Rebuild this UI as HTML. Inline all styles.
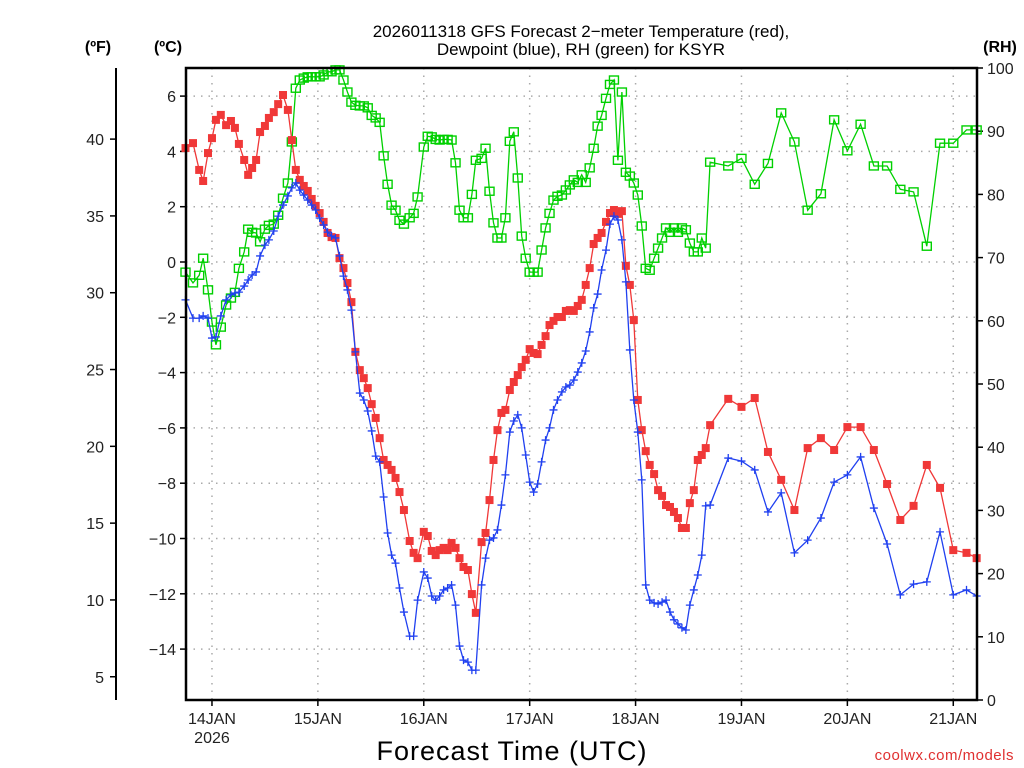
<!DOCTYPE html>
<html><head><meta charset="utf-8"><style>
html,body{margin:0;padding:0;background:#fff;width:1024px;height:768px;overflow:hidden}
svg text{font-family:"Liberation Sans","DejaVu Sans",sans-serif}
</style></head><body>
<svg id="chart" width="1024" height="768" viewBox="0 0 1024 768" xmlns="http://www.w3.org/2000/svg">
<rect width="1024" height="768" fill="#fff"/>
<g id="grid"></g>
<g id="axes"></g>
<g id="series"></g>
<rect x="186" y="68" width="791" height="632" fill="none" stroke="#000" stroke-width="2.5"/>
<text x="581" y="37" text-anchor="middle" font-size="17" fill="#000">2026011318 GFS Forecast 2−meter Temperature (red),</text>
<text x="581" y="55" text-anchor="middle" font-size="17" fill="#000">Dewpoint (blue), RH (green) for KSYR</text>
<text x="98" y="52" text-anchor="middle" font-size="16" font-weight="bold">(ºF)</text>
<text x="168" y="52" text-anchor="middle" font-size="16" font-weight="bold">(ºC)</text>
<text x="1000" y="52" text-anchor="middle" font-size="16" font-weight="bold">(RH)</text>
<text x="512" y="760" text-anchor="middle" font-size="27" letter-spacing="1">Forecast Time (UTC)</text>
<text x="1014" y="760" text-anchor="end" font-size="15" fill="#e03030" letter-spacing="0.5">coolwx.com/models</text>
</svg>
<script>
const hours=[0,1.7,3.1,4.0,5.1,6.0,6.9,8.0,9.2,10.3,11.2,12.1,13.3,14.2,15.1,16.0,16.9,18.0,18.9,20.0,21.0,22.1,23.2,24.1,25.0,25.9,26.8,27.7,28.6,29.5,30.4,31.3,32.2,33.1,34.0,34.9,35.8,36.7,37.6,38.5,39.5,40.4,41.3,42.2,43.1,44.0,44.9,45.8,46.7,47.6,48.5,49.5,50.8,51.7,52.6,54.0,54.9,55.8,56.7,57.6,58.5,59.4,60.3,61.2,62.1,63.0,64.0,64.9,65.8,67.1,68.0,68.9,69.8,70.7,71.6,72.5,73.5,74.4,75.3,76.2,77.1,78.0,78.9,79.8,80.7,81.6,82.5,83.4,84.3,85.3,86.2,87.1,88.0,88.9,89.8,90.7,91.6,92.5,93.4,94.3,95.3,96.2,97.1,98.0,98.9,99.8,100.7,101.6,102.5,103.4,104.3,105.2,106.2,107.1,108.0,108.9,109.8,110.7,111.6,112.5,113.4,114.3,115.2,116.1,117.0,117.9,118.9,123,126,129,132,135,138,141,144,147,150,153,156,159,162,165,168,171,174,177,179.3];
const tempC=[4.12,4.30,3.33,2.93,3.94,4.48,5.14,5.32,4.95,5.10,4.85,4.27,3.69,3.15,3.40,3.69,4.70,4.92,5.21,5.42,5.71,6.04,5.50,4.41,3.33,2.97,2.75,2.57,2.28,2.03,1.77,1.45,1.05,0.90,0.87,0.14,-0.22,-0.76,-1.45,-3.25,-3.91,-4.20,-4.56,-5.14,-5.64,-6.37,-7.16,-7.34,-7.52,-7.81,-8.32,-8.97,-10.09,-10.52,-10.71,-9.76,-9.91,-10.45,-10.60,-10.42,-10.34,-10.42,-10.16,-10.34,-10.71,-11.03,-11.14,-12.01,-12.69,-10.13,-9.80,-8.61,-7.16,-6.08,-5.46,-5.35,-4.63,-4.34,-4.09,-3.80,-3.54,-3.15,-3.29,-3.33,-3.00,-2.68,-2.28,-2.13,-1.99,-1.99,-1.77,-1.74,-1.77,-1.59,-1.37,-0.83,-0.22,0.65,0.87,1.05,1.45,1.77,1.88,1.74,1.84,-0.14,-0.83,-2.10,-4.99,-6.08,-6.84,-7.34,-7.67,-8.25,-8.46,-8.79,-8.86,-9.04,-9.26,-9.62,-9.62,-8.72,-8.25,-7.16,-6.98,-6.73,-5.90,-4.95,-5.24,-4.92,-6.87,-7.88,-8.97,-6.73,-6.37,-6.80,-5.97,-5.97,-6.80,-8.03,-9.33,-8.82,-7.34,-8.17,-10.42,-10.52,-10.71];
const dewC=[-1.37,-2.03,-2.03,-1.95,-2.03,-2.75,-2.71,-1.95,-1.37,-1.19,-1.12,-1.09,-0.87,-0.65,-0.47,-0.36,0.22,0.61,0.80,1.12,1.66,2.06,2.39,2.68,2.86,2.60,2.42,2.24,2.06,1.88,1.59,1.34,1.08,0.94,0.87,0.22,-0.51,-1.01,-1.74,-3.25,-4.74,-4.99,-5.39,-6.11,-7.02,-7.23,-8.50,-9.80,-10.60,-10.89,-11.79,-12.66,-13.53,-13.53,-12.23,-11.21,-11.43,-12.08,-12.23,-12.08,-11.86,-11.79,-11.68,-12.41,-13.89,-14.40,-14.47,-14.76,-14.76,-11.68,-10.71,-10.06,-9.98,-9.69,-8.79,-7.70,-6.15,-5.75,-5.53,-6.00,-6.98,-7.96,-8.32,-8.03,-7.23,-6.44,-6.00,-5.35,-4.99,-4.70,-4.52,-4.45,-4.27,-3.98,-3.65,-3.22,-2.53,-1.66,-1.16,-0.29,0.43,1.37,1.66,1.52,0.80,-0.72,-3.18,-4.99,-6.15,-7.88,-11.68,-12.23,-12.33,-12.37,-12.30,-12.23,-12.66,-12.94,-13.09,-13.23,-13.31,-12.41,-11.86,-11.32,-10.60,-8.82,-8.79,-7.09,-7.20,-7.52,-9.04,-8.35,-10.52,-10.06,-9.26,-7.96,-7.70,-7.05,-8.90,-10.20,-12.04,-11.65,-11.57,-9.76,-12.04,-11.86,-12.08];
const rhPct=[67.7,66.0,67.2,69.9,64.9,59.8,56.2,59.0,62.5,63.6,64.5,68.3,70.9,74.5,74.0,73.9,72.5,74.5,75.1,75.3,76.7,79.4,81.8,88.3,96.8,98.1,98.4,98.6,98.6,98.6,98.6,98.9,99.4,99.4,99.7,99.7,98.1,96.2,94.6,94.1,94.0,94.0,93.7,92.5,92.1,91.4,86.1,81.6,78.3,77.5,75.9,75.3,76.3,77.0,79.6,87.5,89.2,89.1,88.7,88.6,88.7,88.7,88.6,85.0,77.5,76.3,76.3,80.0,85.4,85.7,87.3,80.5,75.5,73.1,73.1,76.3,88.4,89.9,82.6,73.4,69.9,67.7,67.7,67.7,71.2,74.7,77.0,79.1,79.7,79.9,80.7,81.5,82.3,81.9,83.1,81.9,84.2,87.3,90.8,92.5,95.2,97.4,98.1,85.4,96.2,83.5,82.9,81.8,79.9,75.0,68.3,68.0,69.9,71.5,73.1,74.7,74.0,74.7,74.0,74.7,74.4,72.3,70.9,70.9,73.1,71.5,85.1,84.5,85.7,81.6,84.9,92.9,88.3,77.5,80.1,91.8,86.9,91.1,84.5,84.5,80.8,80.4,71.8,88.1,88.1,90.2,90.2];
const celsiusTicks=[6,4,2,0,-2,-4,-6,-8,-10,-12,-14];
const fahrenheitTicks=[40,35,30,25,20,15,10,5];
const rhTicks=[100,90,80,70,60,50,40,30,20,10,0];
const dayLabels=["14JAN","15JAN","16JAN","17JAN","18JAN","19JAN","20JAN","21JAN"];
const dayHours=[6,30,54,78,102,126,150,174];

const NS="http://www.w3.org/2000/svg";
const X0=185.5,PXH=105.9/24,L=186,R=977,T=68,B=700;
const xS=h=>X0+h*PXH;
const yC=c=>262-c*27.65;
const yF=f=>yC((f-32)*5/9);
const yRH=r=>B-r*6.32;
function mk(tag,attrs,parent,txt){const e=document.createElementNS(NS,tag);for(const k in attrs)e.setAttribute(k,attrs[k]);if(txt!==undefined)e.textContent=txt;parent.appendChild(e);return e;}
const grid=document.getElementById('grid'),axes=document.getElementById('axes'),ser=document.getElementById('series');

dayHours.forEach((h,i)=>{
  const x=xS(h);
  const g=mk('line',{x1:x,y1:T,x2:x,y2:B,stroke:'#aaa','stroke-width':1.5,'stroke-dasharray':'1.5 6'},grid);
  
  
  const t=mk('line',{x1:x,y1:B,x2:x,y2:B+6,stroke:'#000','stroke-width':1.5},axes);
  
  
  const lb=mk('text',{x:x,y:724,'text-anchor':'middle','font-size':16,fill:'#222'},axes,dayLabels[i]);
  
  
});
const yr=mk('text',{x:xS(dayHours[0]),y:743,'text-anchor':'middle','font-size':16,fill:'#222'},axes,'2026');



celsiusTicks.forEach(c=>{
  const y=yC(c);
  const g=mk('line',{x1:L,y1:y,x2:R,y2:y,stroke:'#aaa','stroke-width':1.5,'stroke-dasharray':'1.5 6'},grid);
  
  
  const t=mk('line',{x1:L-6,y1:y,x2:L,y2:y,stroke:'#000','stroke-width':1.5},axes);
  
  
  const lb=mk('text',{x:L-10,y:y+6,'text-anchor':'end','font-size':16,fill:'#222'},axes,(c<0?'−':'')+Math.abs(c));
  
  
});
const fax=mk('line',{x1:116,y1:T,x2:116,y2:B,stroke:'#000','stroke-width':2},axes);


fahrenheitTicks.forEach(f=>{
  const y=yF(f);
  const t=mk('line',{x1:110,y1:y,x2:116,y2:y,stroke:'#000','stroke-width':1.5},axes);
  
  
  const lb=mk('text',{x:104,y:y+6,'text-anchor':'end','font-size':16,fill:'#222'},axes,String(f));
  
  
});
rhTicks.forEach(r=>{
  const y=yRH(r);
  const t=mk('line',{x1:R,y1:y,x2:R+6,y2:y,stroke:'#000','stroke-width':1.5},axes);
  
  
  const lb=mk('text',{x:R+10,y:y+6,'text-anchor':'start','font-size':16,fill:'#222'},axes,String(r));
  
  
});

function series(vals,yf,color,kind,name){
  const n=Math.min(hours.length,vals.length);
  const pts=[];for(let i=0;i<n;i++)pts.push(xS(hours[i]).toFixed(1)+','+yf(vals[i]).toFixed(1));
  const g=mk('g',{},ser);
  
  
  const pl=mk('polyline',{points:pts.join(' '),fill:'none',stroke:color,'stroke-width':1.3},g);
  
  
  for(let i=0;i<n;i++){
    const x=xS(hours[i]),y=yf(vals[i]);let m;
    if(kind==='fill'){m=mk('rect',{x:x-4,y:y-4,width:8,height:8,fill:color},g);}
    else if(kind==='open'){m=mk('rect',{x:x-4.5,y:y-4,width:9,height:8,fill:'none',stroke:color,'stroke-width':1.4},g);}
    else {m=mk('path',{d:`M${x-4},${y}H${x+4}M${x},${y-4}V${y+4}`,stroke:color,'stroke-width':1.3},g);}
    
    
  }
}
series(rhPct,yRH,'#00d000','open','rh');
series(tempC,yC,'#f03838','fill','temperature');
series(dewC,yC,'#2040f0','plus','dewpoint');
</script>
</body></html>
